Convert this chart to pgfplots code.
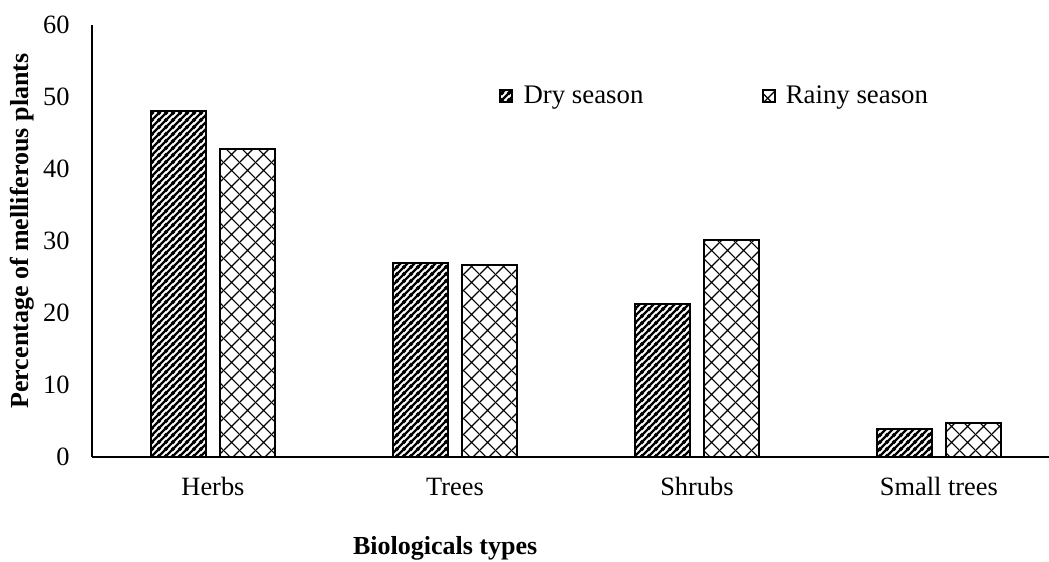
\documentclass[border=0pt]{standalone}
\usepackage{fontspec}
\setmainfont{Liberation Serif}
\usepackage{pgfplots}
\pgfplotsset{compat=1.18}
\usetikzlibrary{patterns}

\pgfdeclarepatternformonly{drystripes}{\pgfpointorigin}{\pgfpoint{3.3pt}{3.3pt}}{\pgfpoint{3.3pt}{3.3pt}}{%
  \pgfsetlinewidth{1.15pt}%
  \pgfpathmoveto{\pgfpoint{-1pt}{-1pt}}\pgfpathlineto{\pgfpoint{4.3pt}{4.3pt}}%
  \pgfpathmoveto{\pgfpoint{-1pt}{2.3pt}}\pgfpathlineto{\pgfpoint{1pt}{4.3pt}}%
  \pgfpathmoveto{\pgfpoint{2.3pt}{-1pt}}\pgfpathlineto{\pgfpoint{4.3pt}{1pt}}%
  \pgfusepath{stroke}}
\pgfdeclarepatternformonly{rainydiamond}{\pgfpointorigin}{\pgfpoint{8pt}{8pt}}{\pgfpoint{8pt}{8pt}}{%
  \pgfsetlinewidth{0.6pt}%
  \pgfpathmoveto{\pgfpoint{-1pt}{-1pt}}\pgfpathlineto{\pgfpoint{9pt}{9pt}}%
  \pgfpathmoveto{\pgfpoint{-1pt}{9pt}}\pgfpathlineto{\pgfpoint{9pt}{-1pt}}%
  \pgfusepath{stroke}}

\pgfplotstableread{
x dry rainy
0 48.0 42.8
1 27.0 26.6
2 21.2 30.1
3 3.9 4.7
}\datatable

\begin{document}
\begin{tikzpicture}
\begin{axis}[
  name=ax,
  scale only axis,
  width=478.5pt, height=216pt,
  xmin=-0.5, xmax=3.455,
  ymin=0, ymax=60,
  ytick={0,10,...,60},
  xtick={0,1,2,3},
  xticklabels={Herbs,Trees,Shrubs,Small trees},
  axis x line*=bottom,
  axis y line*=left,
  axis line style={-, line width=0.75pt, black},
  major tick length=0pt,
  /pgf/number format/assume math mode=true,
  tick label style={font=\fontsize{13.2}{15.8}\selectfont},
  xticklabel style={inner sep=0pt, anchor=base, yshift=-19.5pt},
  yticklabel style={inner sep=0pt, anchor=east, xshift=-11pt},
  ylabel={Percentage of melliferous plants},
  ylabel style={font=\fontsize{13}{15.6}\selectfont\bfseries, at={(axis description cs:-0.0731,0.523)}, anchor=center},
  xlabel={Biologicals types},
  xlabel style={font=\fontsize{13}{15.6}\selectfont\bfseries, at={(axis description cs:0.369,-0.2106)}, anchor=center},
  ybar,
  bar width=27.5pt,
  legend style={at={(axis description cs:0.4253,0.8356)}, anchor=west, draw=none, fill=none, inner sep=0pt,
    legend columns=2, font=\fontsize{13.4}{16}\selectfont,
    nodes={inner xsep=5.1pt},
    /tikz/every even column/.append style={column sep=54pt}},
  legend cell align=left,
  legend image code/.code={\draw[#1] (0pt,-3pt) rectangle (6pt,3pt);},
]
\addplot[bar shift=-17.25pt, draw=black, line width=1pt, pattern=drystripes, pattern color=black] table[x=x, y=dry] {\datatable};
\addlegendentry{Dry season}
\addplot[bar shift=17.25pt, draw=black, line width=1pt, pattern=rainydiamond, pattern color=black] table[x=x, y=rainy] {\datatable};
\addlegendentry{Rainy season}
\end{axis}
\pgfresetboundingbox
\path ([shift={(-46pt,-52.5pt)}]ax.south west) rectangle ([shift={(0pt,12.5pt)}]ax.north east);
\end{tikzpicture}
\end{document}
